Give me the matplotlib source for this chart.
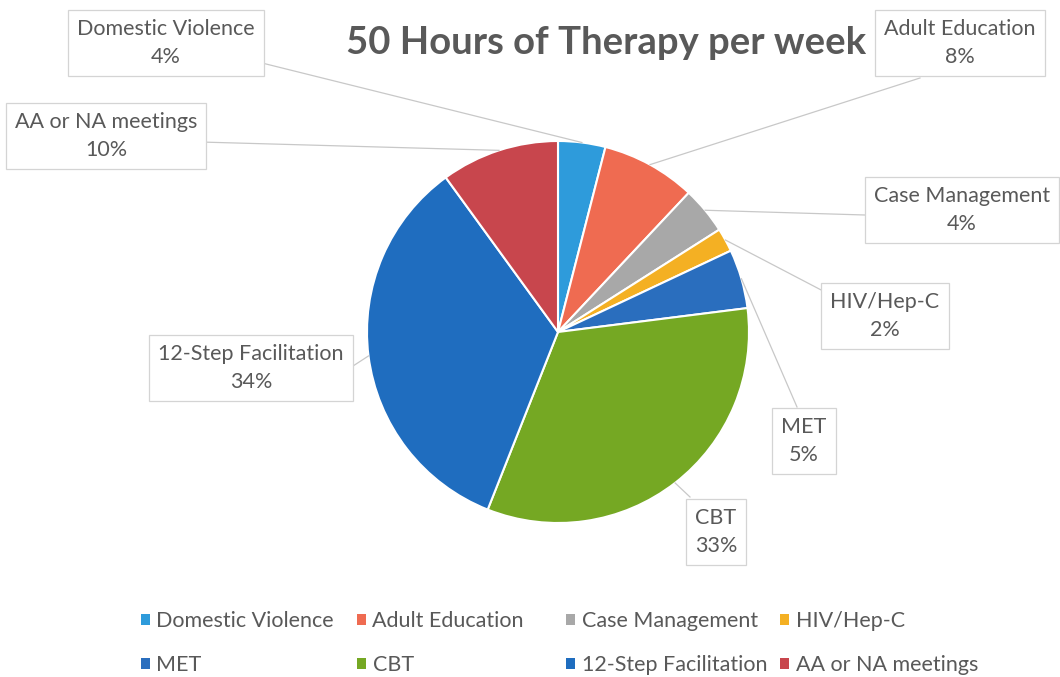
import matplotlib
matplotlib.use('Agg')
import matplotlib.pyplot as plt
from matplotlib.patches import Patch
from matplotlib.legend import Legend
import numpy as np

categories = ['Domestic Violence', 'Adult Education', 'Case Management', 'HIV/Hep-C',
              'MET', 'CBT', '12-Step Facilitation', 'AA or NA meetings']
percent = [4, 8, 4, 2, 5, 33, 34, 10]
colors = ['#2E9BDB', '#EF6B51', '#A8A8A8', '#F4B023',
          '#2A6EBE', '#75A823', '#1F6DBF', '#C8464D']
title = '50 Hours of Therapy per week'

plt.rcParams['font.family'] = ['Lato', 'DejaVu Sans']
W, H = 1060, 677
fig = plt.figure(figsize=(10.6, 6.77), dpi=100)
ax = fig.add_axes([0, 0, 1, 1])

cx, cy, R = 558, H - 332, 191
wedges, _ = ax.pie(percent, colors=colors, startangle=90, counterclock=False,
                   center=(cx, cy), radius=R,
                   wedgeprops=dict(edgecolor='white', linewidth=1.5))
ax.set_xlim(0, W)
ax.set_ylim(0, H)
ax.set_aspect('equal')
ax.axis('off')

txt = '#595959'
# label centres and box anchor points (pixels from top-left)
label_pos = [(166, 43), (960, 43), (962, 210), (885, 316),
             (804, 441), (716, 532), (251, 368), (106, 136)]
box_anchor = [(258, 62), (920, 78), (865, 215), (825, 292),
              (797, 407), (690, 497), (353, 366), (200, 142)]

for i, w in enumerate(wedges):
    mid = np.deg2rad((w.theta1 + w.theta2) / 2)
    px, py = cx + R * np.cos(mid), cy + R * np.sin(mid)
    bx, by = box_anchor[i]
    ax.plot([px, bx], [py, H - by], color='#C8C8C8', lw=0.9, zorder=1)
    lx, ly = label_pos[i]
    ax.text(lx, H - ly, f'{categories[i]}\n{percent[i]}%', ha='center', va='center',
            fontsize=15.5, color=txt, linespacing=1.55, zorder=3,
            bbox=dict(boxstyle='square,pad=0.42', fc='white', ec='#D4D4D4', lw=0.9))

ax.text(606, H - 43, title, ha='center', va='center', fontsize=27.5,
        fontweight='bold', color=txt)

# legend: four columns, two rows, row-major order
col_x = [141, 357, 566, 780]
for c in range(4):
    idx = [c, c + 4]
    handles = [Patch(facecolor=colors[j], edgecolor='none') for j in idx]
    leg = Legend(ax, handles, [categories[j] for j in idx], loc='upper left',
                 bbox_to_anchor=(col_x[c], H - 611), bbox_transform=ax.transData,
                 frameon=False, fontsize=15.5, handlelength=0.42, handleheight=0.42,
                 handletextpad=0.3, labelspacing=1.12, borderpad=0, borderaxespad=0,
                 labelcolor=txt)
    ax.add_artist(leg)

fig.savefig('out.png', dpi=100, facecolor='white')
